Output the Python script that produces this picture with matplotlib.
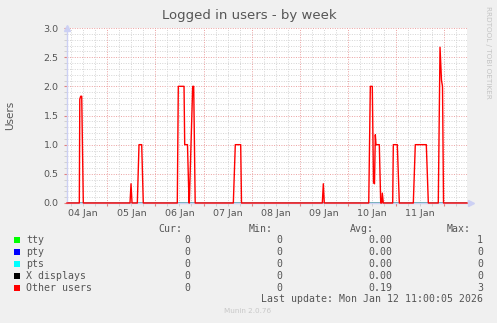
import numpy as np
import matplotlib
matplotlib.use("Agg")
import matplotlib.pyplot as plt
from matplotlib.patches import Rectangle
from matplotlib.transforms import blended_transform_factory

# time in days since 04 Jan 00:00
t_start, t_end = 0.162, 8.478

other_t = [0.162, 0.418, 0.428, 0.447, 0.468, 0.501,
           1.472, 1.493, 1.514,
           1.624, 1.659, 1.715, 1.748,
           2.455, 2.476, 2.595, 2.609, 2.667, 2.699, 2.705, 2.775, 2.796, 2.827,
           3.620, 3.661, 3.773, 3.790,
           5.470, 5.491, 5.511,
           6.435, 6.468, 6.509, 6.534, 6.555, 6.572, 6.586, 6.655, 6.684, 6.705, 6.717, 6.738,
           6.933, 6.946, 7.029, 7.071,
           7.362, 7.403, 7.632, 7.674,
           7.881, 7.917, 7.948, 7.969, 7.990,
           8.478]
other_v = [0, 0, 1.78, 1.83, 1.83, 0,
           0, 0.33, 0,
           0, 1.0, 1.0, 0,
           0, 2.0, 2.0, 1.0, 1.0, 0, 0, 2.0, 2.0, 0,
           0, 1.0, 1.0, 0,
           0, 0.33, 0,
           0, 2.0, 2.0, 0.35, 0.33, 1.17, 1.0, 1.0, 0, 0, 0.17, 0,
           0, 1.0, 1.0, 0,
           0, 1.0, 1.0, 0,
           0, 2.67, 2.1, 2.0, 0,
           0]

series_names = ["tty", "pty", "pts", "X displays", "Other users"]
series_colors = ["#00FF00", "#0000FF", "#00FFFF", "#000000", "#FF0000"]
cur_vals = ["0", "0", "0", "0", "0"]
min_vals = ["0", "0", "0", "0", "0"]
avg_vals = ["0.00", "0.00", "0.00", "0.00", "0.19"]
max_vals = ["1", "0", "0", "0", "3"]
zero_t = [t_start, t_end]
zero_v = [0, 0]

day_labels = ["04 Jan", "05 Jan", "06 Jan", "07 Jan", "08 Jan", "09 Jan", "10 Jan", "11 Jan"]

W, H = 497, 323
fig = plt.figure(figsize=(W / 100, H / 100), dpi=100, facecolor="#F0F0F0")


def fx(x):
    return x / W


def fy(y):
    return 1 - y / H


ax = fig.add_axes([fx(67), fy(203), 400 / W, 175 / H])
ax.set_facecolor("white")
ax.set_xlim(t_start, t_end)
ax.set_ylim(0, 3)

# grid, rrdtool style dotted lines
dot = (0, (1, 1.5))
for y in np.arange(0.1, 3.01, 0.1):
    if abs(y * 2 - round(y * 2)) > 1e-6:
        ax.axhline(y, color="#d4d4d4", lw=0.7, ls=dot, zorder=0)
for y in np.arange(0.5, 3.01, 0.5):
    ax.axhline(y, color="#eba0a0", lw=0.7, ls=dot, zorder=0)
for x in np.arange(0.25, 8.5, 0.25):
    if abs(x - round(x)) > 1e-6:
        ax.axvline(x, color="#d4d4d4", lw=0.7, ls=dot, zorder=0)
for x in range(1, 9):
    ax.axvline(x, color="#eba0a0", lw=0.7, ls=dot, zorder=0)

# series
for name, c in zip(series_names[:-1], series_colors[:-1]):
    ax.plot(zero_t, zero_v, color=c, lw=1.0, zorder=2)
ax.plot(other_t, other_v, color="#FF0000", lw=1.0, zorder=3, clip_on=False)

# axes styling
for s in ["top", "right"]:
    ax.spines[s].set_visible(False)
for s in ["left", "bottom"]:
    ax.spines[s].set_color("#ccd0f4")
    ax.spines[s].set_linewidth(1.0)
ax.plot([0], [1.0], marker="^", color="#ccd0f4", ms=5, transform=ax.transAxes, clip_on=False)
ax.plot([1.01], [0], marker=">", color="#ccd0f4", ms=5, transform=ax.transAxes, clip_on=False)

ax.set_yticks(np.arange(0, 3.01, 0.5))
ax.set_yticklabels(["%.1f" % v for v in np.arange(0, 3.01, 0.5)])
ax.set_yticks(np.arange(0, 3.01, 0.1), minor=True)
ax.tick_params(axis="y", which="major", length=2, color="#e08080", labelsize=6.8,
               labelcolor="#555555", pad=4)
ax.tick_params(axis="y", which="minor", length=2, color="#cccccc")

ax.set_xticks(np.arange(1, 9))
ax.set_xticklabels([])
ax.set_xticks(np.arange(0.25, 8.5, 0.25), minor=True)
ax.tick_params(axis="x", which="major", length=2, color="#e08080")
ax.tick_params(axis="x", which="minor", length=2, color="#cccccc")
trans = blended_transform_factory(ax.transData, fig.transFigure)
for i, lab in enumerate(day_labels):
    ax.text(i + 0.5, fy(213), lab, transform=trans, ha="center", va="center",
            fontsize=6.8, color="#555555")

# titles
fig.text(fx(249), fy(15), "Logged in users - by week", ha="center", va="center",
         fontsize=9.5, color="#555555")
fig.text(fx(10), fy(115), "Users", ha="center", va="center", rotation=90,
         fontsize=7.5, color="#555555")
fig.text(fx(488), fy(52), "RRDTOOL / TOBI OETIKER", ha="center", va="center",
         rotation=270, fontsize=5.2, color="#c4c4c4")

# legend
mono = "DejaVu Sans Mono"
lc = "#555555"
fs = 7.1
hy = 229
fig.text(fx(158), fy(hy), "Cur:", family=mono, fontsize=fs, color=lc, va="center")
fig.text(fx(249), fy(hy), "Min:", family=mono, fontsize=fs, color=lc, va="center")
fig.text(fx(350), fy(hy), "Avg:", family=mono, fontsize=fs, color=lc, va="center")
fig.text(fx(447), fy(hy), "Max:", family=mono, fontsize=fs, color=lc, va="center")
for i, name in enumerate(series_names):
    y = 240 + 12 * i
    fig.patches.append(Rectangle((fx(14), fy(y + 3)), 6 / W, 6 / H,
                                 transform=fig.transFigure, facecolor=series_colors[i],
                                 edgecolor="none"))
    fig.text(fx(26), fy(y), name, family=mono, fontsize=fs, color=lc, va="center")
    fig.text(fx(190), fy(y), cur_vals[i], family=mono, fontsize=fs, color=lc, va="center", ha="right")
    fig.text(fx(282), fy(y), min_vals[i], family=mono, fontsize=fs, color=lc, va="center", ha="right")
    fig.text(fx(392), fy(y), avg_vals[i], family=mono, fontsize=fs, color=lc, va="center", ha="right")
    fig.text(fx(483), fy(y), max_vals[i], family=mono, fontsize=fs, color=lc, va="center", ha="right")
fig.text(fx(483), fy(299), "Last update: Mon Jan 12 11:00:05 2026", family=mono,
         fontsize=fs, color=lc, va="center", ha="right")
fig.text(fx(248), fy(311), "Munin 2.0.76", ha="center", va="center", fontsize=5.2,
         color="#c8c8c8")

fig.savefig("out.png", dpi=100, facecolor=fig.get_facecolor())
